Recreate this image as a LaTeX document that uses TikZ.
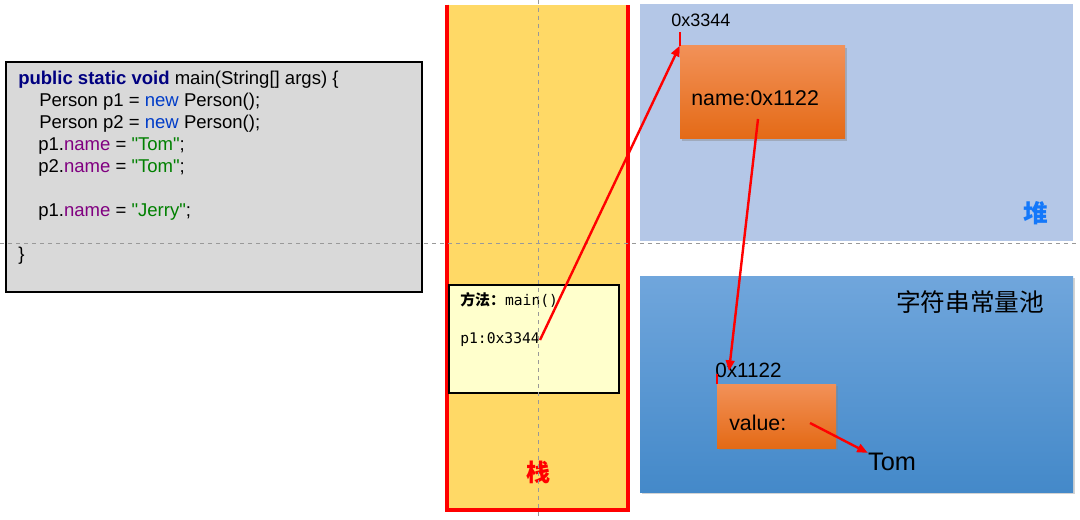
\documentclass[tikz,border=0pt]{standalone}
\usepackage{fontspec}
\setmainfont{Liberation Sans}[Ligatures=TeXOff]
\setmonofont{DejaVu Sans Mono}
\newfontfamily\cjk{Noto Sans CJK SC}
\usetikzlibrary{arrows.meta, positioning, shadows}
\definecolor{codegray}{RGB}{217,217,217}
\definecolor{stackyellow}{RGB}{255,217,102}
\definecolor{framelight}{RGB}{255,255,204}
\definecolor{heapblue}{RGB}{180,199,231}
\definecolor{pooltop}{RGB}{112,166,220}
\definecolor{poolbottom}{RGB}{68,137,201}
\definecolor{objtop}{RGB}{242,145,88}
\definecolor{objbottom}{RGB}{228,106,22}
\definecolor{heaplabel}{RGB}{20,120,250}
\definecolor{javakw}{RGB}{0,0,128}
\definecolor{javanew}{RGB}{0,60,200}
\definecolor{javafield}{RGB}{128,0,128}
\definecolor{javastr}{RGB}{0,128,0}
\newcommand{\jstr}[1]{\textcolor{javastr}{"#1"}}
\tikzstyle{codebox} = [rectangle, fill=codegray, draw=black, line width=1.5pt,
inner sep=0pt, minimum width=312pt, minimum height=172.5pt]
\tikzstyle{stackarea} = [rectangle, fill=stackyellow, inner sep=0pt,
minimum width=135pt, minimum height=378.75pt]
\tikzstyle{stackwall} = [draw=red, line width=3pt]
\tikzstyle{framebox} = [rectangle, fill=framelight, draw=black, line width=1.5pt,
inner sep=0pt, minimum width=127.5pt, minimum height=81pt]
\tikzstyle{heaparea} = [rectangle, fill=heapblue, inner sep=0pt,
minimum width=324.75pt, minimum height=177.75pt]
\tikzstyle{poolarea} = [rectangle, top color=pooltop, bottom color=poolbottom,
inner sep=0pt, minimum width=324.75pt, minimum height=162pt,
drop shadow={shadow xshift=1.5pt, shadow yshift=-1.5pt, opacity=0.35}]
\tikzstyle{objbox} = [rectangle, top color=objtop, bottom color=objbottom,
inner sep=0pt, drop shadow={shadow xshift=1.5pt, shadow yshift=-1.5pt, opacity=0.4}]
\tikzstyle{guide} = [draw=gray!80, dashed, line width=0.6pt]
\tikzstyle{reflink} = [-{Triangle[length=8pt, width=6.5pt]}, draw=red, line width=1.8pt]
\tikzstyle{redtick} = [draw=red, line width=1.8pt]
\tikzstyle{addr} = [font=\fontsize{13.5pt}{16pt}\selectfont, inner sep=0pt]

\begin{document}
\begin{tikzpicture}[x=0.75pt, y=-0.75pt]
    \useasboundingbox (0,0) rectangle (1080,520);

    % source code
    \node (code) [codebox] at (214,177) {};
    \node (src) [anchor=north west, inner sep=0pt, align=left,
        font=\fontsize{13.9pt}{16.5pt}\selectfont] at (18,71)
    {\textcolor{javakw}{\textbf{public static void}} main(String[] args) \{\\
    \hspace*{15.75pt}Person p1 = \textcolor{javanew}{new} Person();\\
    \hspace*{15.75pt}Person p2 = \textcolor{javanew}{new} Person();\\
    \hspace*{15pt}p1.\textcolor{javafield}{name} = \jstr{Tom};\\
    \hspace*{15pt}p2.\textcolor{javafield}{name} = \jstr{Tom};\\
    \mbox{}\\
    \hspace*{15pt}p1.\textcolor{javafield}{name} = \jstr{Jerry};\\
    \mbox{}\\
    \}};

    % stack
    \node (stack) [stackarea] at (537.5,257.5) {};
    \draw[stackwall] (stack.north west) -- (stack.south west)
        -- (stack.south east) -- (stack.north east);
    \node (stacklbl) [text=red, font=\cjk\bfseries\fontsize{18pt}{20pt}\selectfont]
        at (538,472) {栈};
    \node (frame) [framebox] at (534,339) {};
    \node (method) [anchor=west, inner sep=0pt] at (460,300)
        {{\cjk\bfseries\fontsize{11.2pt}{12pt}\selectfont 方法：}\texttt{\fontsize{11pt}{12pt}\selectfont main()}};
    \node (ref1) [anchor=west, inner sep=0pt,
        font=\ttfamily\fontsize{11pt}{12pt}\selectfont] at (460,340) {p1:0x3344};

    % heap
    \node (heap) [heaparea] at (856.5,122.5) {};
    \node (heaplbl) [text=heaplabel, font=\cjk\bfseries\fontsize{18.5pt}{20pt}\selectfont]
        at (1036,213) {堆};
    \node (obj1) [objbox, minimum width=123.75pt, minimum height=69.75pt]
        at (762.5,92.5) {};
    \node (namefield) [anchor=west, inner sep=0pt,
        font=\fontsize{16pt}{18pt}\selectfont] at (691,98) {name:0x1122};
    \node (addr1) [addr, anchor=west] at (671,20) {0x3344};

    % string pool
    \node (pool) [poolarea] at (856.5,384) {};
    \node (poollbl) [font=\cjk\fontsize{18.5pt}{20pt}\selectfont] at (970,302)
        {字符串常量池};
    \node (val) [objbox, minimum width=89.25pt, minimum height=48pt]
        at (776.5,416) {};
    \node (valfield) [anchor=west, inner sep=0pt,
        font=\fontsize{16pt}{18pt}\selectfont] at (729,423) {value:};
    \node (addr2) [addr, anchor=west, font=\fontsize{15.5pt}{18pt}\selectfont]
        at (715,370) {0x1122};
    \node (tom) [inner sep=0pt, font=\fontsize{19pt}{22pt}\selectfont]
        at (892,462) {Tom};

    % guides
    \draw[guide] (0,243) -- (1080,243);
    \draw[guide] (538,0) -- (538,520);

    % references
    \coordinate (namept) at (758,119);
    \coordinate (addr2tip) at (729,371);
    \coordinate (valpt) at (810,423);
    \draw[reflink] (ref1.east) -- (obj1.north west);
    \draw[redtick] (obj1.north west) -- ++(0,-14);
    \draw[reflink] (namept) -- (addr2tip);
    \draw[redtick] (val.north west) -- ++(0,-10);
    \draw[reflink] (valpt) -- (tom.north west);
\end{tikzpicture}
\end{document}
